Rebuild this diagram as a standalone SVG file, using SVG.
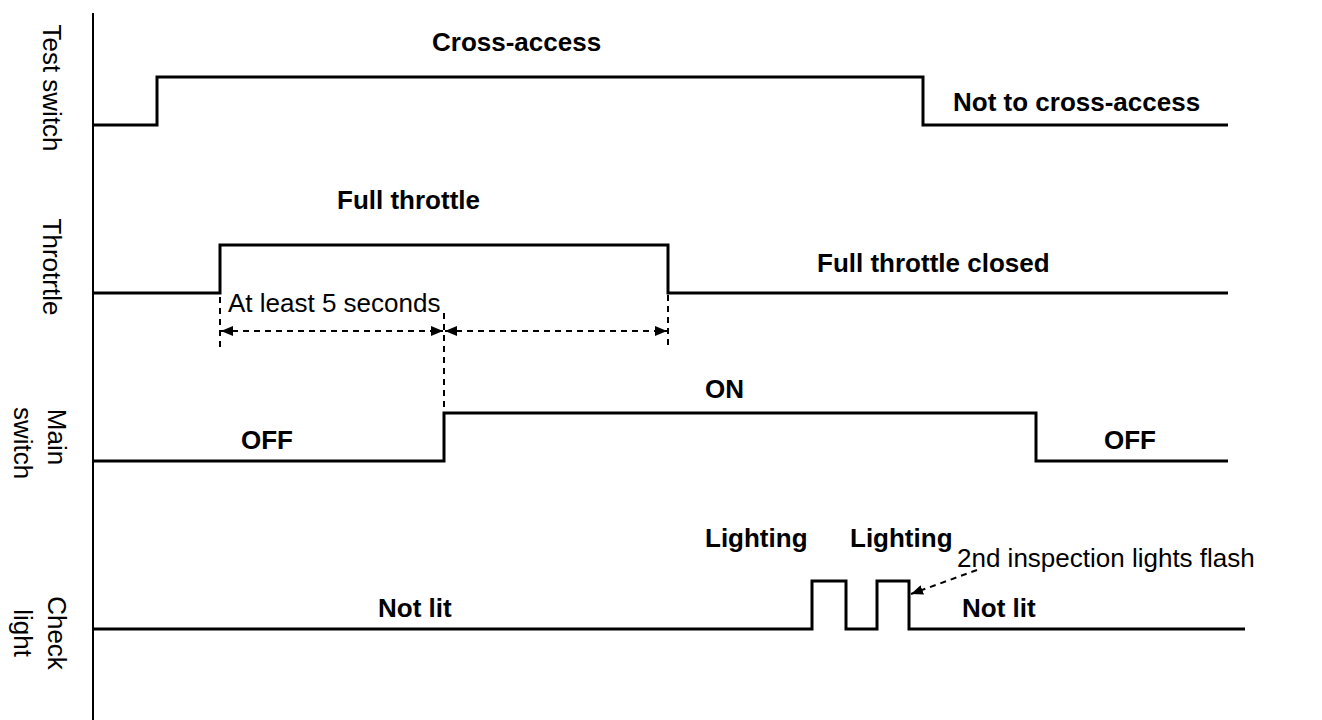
<svg xmlns="http://www.w3.org/2000/svg" width="1322" height="720" viewBox="0 0 1322 720">
<defs>
<style>
.wave{fill:none;stroke:#000;stroke-width:3;stroke-linejoin:miter}
.axis{fill:none;stroke:#000;stroke-width:2}
.dash{fill:none;stroke:#000;stroke-width:2;stroke-dasharray:6 5}
.b{font-family:"Liberation Sans",Arial,sans-serif;font-size:26px;font-weight:bold;fill:#000}
.r{font-family:"Liberation Sans",Arial,sans-serif;font-size:26px;fill:#000}
.lab{font-family:"Liberation Sans",Arial,sans-serif;font-size:26px;fill:#000;text-anchor:middle}
</style>
<marker id="ah" viewBox="0 0 12 10" refX="12" refY="5" markerWidth="12" markerHeight="10" markerUnits="userSpaceOnUse" orient="auto-start-reverse">
<path d="M0,0 L12,5 L0,10 Z" fill="#000"/>
</marker>
</defs>
<rect width="1322" height="720" fill="#fff"/>

<g id="labels">
<text class="lab" transform="translate(43,88) rotate(90)">Test switch</text>
<text class="lab" transform="translate(43,267) rotate(90)">Throtrtle</text>
<text class="lab" transform="translate(48,437) rotate(90)">Main</text>
<text class="lab" transform="translate(14,443) rotate(90)">switch</text>
<text class="lab" transform="translate(48,633) rotate(90)">Check</text>
<text class="lab" transform="translate(14,633) rotate(90)">light</text>
</g>

<g id="axis">
<line class="axis" x1="93" y1="13" x2="93" y2="720"/>
</g>

<g id="test-switch">
<polyline class="wave" points="93,125 157,125 157,77 923,77 923,125 1228,125"/>
<text class="b" x="432" y="51">Cross-access</text>
<text class="b" x="953" y="111">Not to cross-access</text>
</g>

<g id="throttle">
<polyline class="wave" points="93,293 220,293 220,245 668,245 668,293 1228,293"/>
<text class="b" x="337" y="209">Full throttle</text>
<text class="b" x="817" y="272">Full throttle closed</text>
</g>

<g id="main-switch">
<polyline class="wave" points="93,461 444,461 444,413 1036,413 1036,461 1228,461"/>
<text class="b" x="241" y="449">OFF</text>
<text class="b" x="705" y="398">ON</text>
<text class="b" x="1104" y="449">OFF</text>
</g>

<g id="check-light">
<polyline class="wave" points="93,629 812,629 812,581 846,581 846,629 877,629 877,581 909,581 909,629 1245,629"/>
<text class="b" x="378" y="617">Not lit</text>
<text class="b" x="962" y="617">Not lit</text>
<text class="b" x="705" y="547">Lighting</text>
<text class="b" x="850" y="547">Lighting</text>
<text class="r" x="957" y="567">2nd inspection lights flash</text>
</g>

<g id="connectors">
<line class="dash" x1="220" y1="297" x2="220" y2="350"/>
<line class="dash" x1="444" y1="313" x2="444" y2="413"/>
<line class="dash" x1="668" y1="295" x2="668" y2="350"/>
<line class="dash" x1="221" y1="331" x2="443" y2="331" marker-start="url(#ah)" marker-end="url(#ah)"/>
<line class="dash" x1="445" y1="331" x2="667" y2="331" marker-start="url(#ah)" marker-end="url(#ah)"/>
<line class="dash" x1="977" y1="570" x2="911" y2="594" marker-end="url(#ah)"/>
<text class="r" x="228" y="312">At least 5 seconds</text>
</g>
</svg>
